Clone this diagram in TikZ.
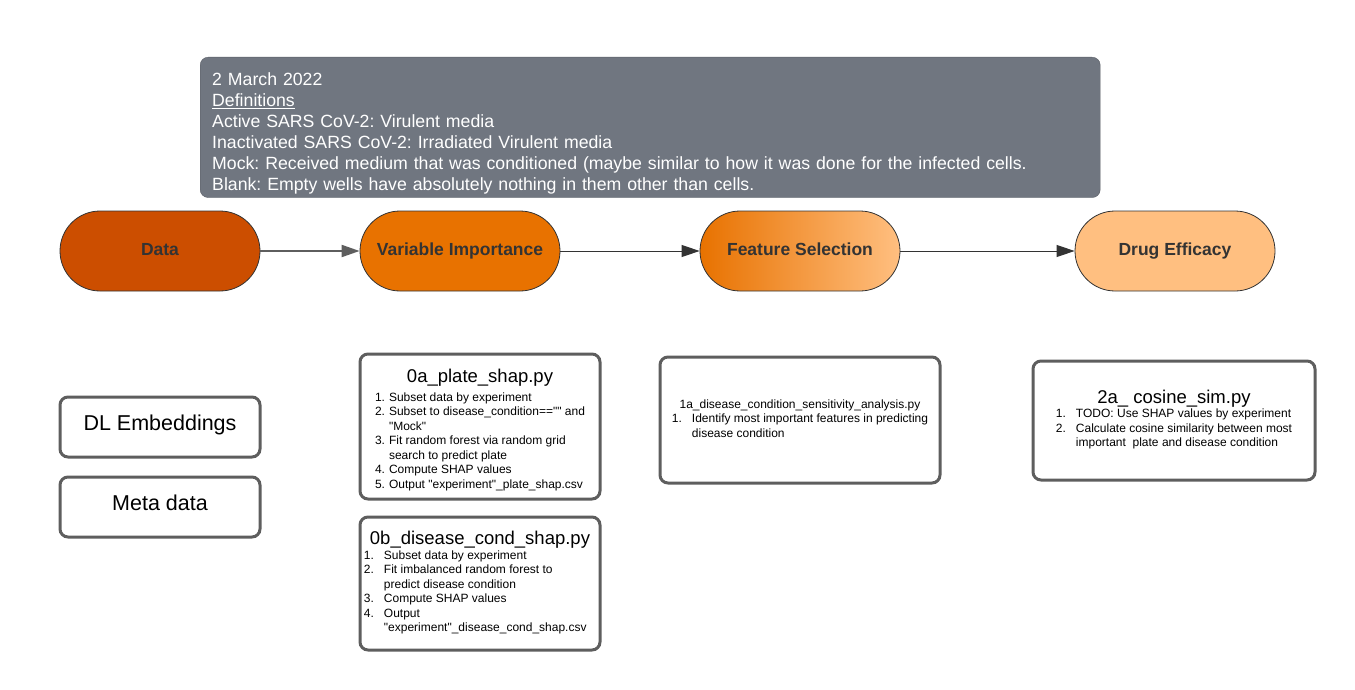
\documentclass[tikz,border=0pt]{standalone}
\usepackage{fontspec}
\setmainfont{Liberation Sans}[Ligatures=TeXOff]
\usetikzlibrary{arrows.meta, positioning}
\frenchspacing

\definecolor{defgray}{RGB}{112,118,128}
\definecolor{dataorange}{RGB}{204,78,0}
\definecolor{varorange}{RGB}{232,114,0}
\definecolor{peach}{RGB}{255,191,128}
\definecolor{pilltext}{RGB}{51,51,51}
\definecolor{boxline}{RGB}{94,94,94}

\newcommand{\codetitle}{\fontsize{18.5}{22}\selectfont}
\newcommand{\codelist}{\fontsize{12}{14.5}\selectfont}

\begin{document}
\begin{tikzpicture}[x=1pt, y=-1pt, >={Triangle[length=18pt, width=12pt]}]
  % Fix the canvas
  \useasboundingbox (0,0) rectangle (1355,690);

  % Set the node styles
  \tikzset{
    pill/.style={draw=pilltext, line width=0.8pt, rounded corners=40pt,
      minimum width=200, minimum height=80, text=pilltext,
      text height=13pt, text depth=5pt,
      font=\fontsize{17.5}{20}\selectfont\bfseries},
    defbox/.style={draw=defgray!80!black, fill=defgray, rounded corners=8pt,
      text=white, align=left, inner xsep=12pt,
      font=\fontsize{17.7}{21}\selectfont},
    sidebox/.style={draw=boxline, line width=3pt, rounded corners=8pt,
      minimum width=200, minimum height=60, text depth=8pt,
      font=\fontsize{21.5}{24}\selectfont},
    codebox/.style={draw=boxline, line width=3pt, rounded corners=8pt, inner sep=0pt},
    firstarrow/.style={->, draw=boxline, line width=2pt},
    flowarrow/.style={->, draw=black!80, line width=1pt}
  }

  % Draw the definitions note
  \node[defbox, anchor=north west, minimum width=900, minimum height=140,
    text width=876] (defs) at (200,57) {\rule{0pt}{25pt}2 March 2022\\
    \underline{Definitions}\\
    Active SARS CoV-2: Virulent media\\
    Inactivated SARS CoV-2: Irradiated Virulent media\\
    Mock: Received medium that was conditioned (maybe similar to how it was done for the infected cells.\\
    Blank: Empty wells have absolutely nothing in them other than cells.};

  % Draw the pipeline stages
  \foreach \name/\x/\lc/\rc/\txt in {data/160/dataorange/dataorange/Data,
      varimp/460/varorange/varorange/Variable Importance,
      featsel/800/varorange/peach/Feature Selection,
      drug/1175/peach/peach/Drug Efficacy}{
    \node[pill, left color=\lc, right color=\rc] (\name) at (\x,251) {\txt};
  }

  % Connect the pipeline stages
  \draw[firstarrow] (data) -- (varimp);
  \foreach \a/\b in {varimp/featsel, featsel/drug}{
    \draw[flowarrow] (\a) -- (\b);
  }

  % Draw the input boxes
  \foreach \name/\y/\txt in {embed/427/DL Embeddings, meta/507/Meta data}{
    \node[sidebox] (\name) at (160,\y) {\txt};
  }

  % Draw the script boxes
  \node[codebox, minimum width=240, minimum height=145] (plateshap) at (480,426.5) {\codelist
    \begin{tabular}{@{}l@{\hspace{4pt}}l@{}}
      \multicolumn{2}{c}{\codetitle\rule{0pt}{22pt}0a\_plate\_shap.py}\\[4pt]
      1. & Subset data by experiment\\
      2. & Subset to disease\_condition=="" and\\
         & "Mock"\\
      3. & Fit random forest via random grid\\
         & search to predict plate\\
      4. & Compute SHAP values\\
      5. & Output "experiment"\_plate\_shap.csv
    \end{tabular}};

  \node[codebox, minimum width=240, minimum height=133] (condshap) at (480,583.5) {\codelist
    \begin{tabular}{@{}l@{\hspace{10pt}}l@{}}
      \multicolumn{2}{c}{\codetitle 0b\_disease\_cond\_shap.py}\\
      1. & Subset data by experiment\\
      2. & Fit imbalanced random forest to\\
         & predict disease condition\\
      3. & Compute SHAP values\\
      4. & Output\\
         & "experiment"\_disease\_cond\_shap.csv
    \end{tabular}};

  \node[codebox, minimum width=280, minimum height=126] (sensitivity) at (800,420) {\codelist
    \begin{tabular}{@{}l@{\hspace{10pt}}l@{}}
      \multicolumn{2}{c}{1a\_disease\_condition\_sensitivity\_analysis.py}\\
      1. & Identify most important features in predicting\\
         & disease condition
    \end{tabular}};

  \node[codebox, minimum width=282, minimum height=119] (cosine) at (1174,420.5) {\codelist
    \begin{tabular}{@{}l@{\hspace{10pt}}l@{}}
      \multicolumn{2}{c}{\codetitle 2a\_ cosine\_sim.py}\\
      1. & TODO: Use SHAP values by experiment\\
      2. & Calculate cosine similarity between most\\
         & important\ \ plate and disease condition
    \end{tabular}};
\end{tikzpicture}
\end{document}
